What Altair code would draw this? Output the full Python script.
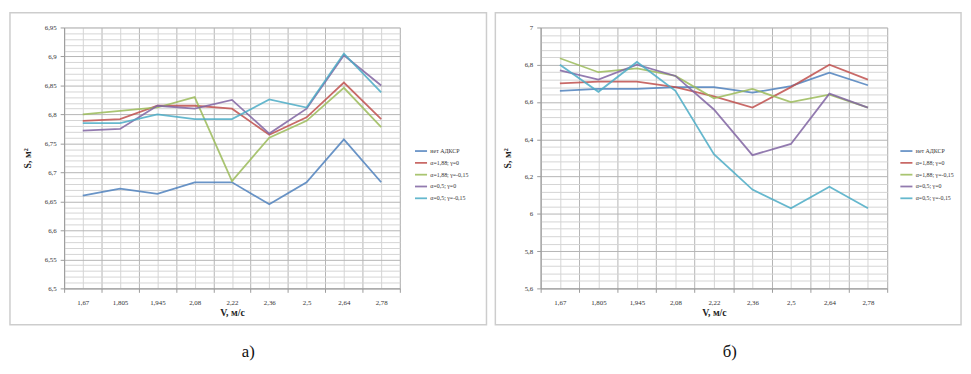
import json
import altair as alt
import pandas as pd

categories = ["1,67", "1,805", "1,945", "2,08", "2,22", "2,36", "2,5", "2,64", "2,78"]
series_names = ["нет АДКСР", "α=1,88; γ=0", "α=1,88; γ=-0,15", "α=0,5; γ=0", "α=0,5; γ=-0,15"]
colors = ["#4F81BD", "#C0504D", "#9BBB59", "#8064A2", "#4BACC6"]

# panel a)
a_s1 = [6.66, 6.672, 6.663, 6.683, 6.683, 6.645, 6.683, 6.757, 6.683]
a_s2 = [6.789, 6.792, 6.815, 6.815, 6.81, 6.765, 6.795, 6.855, 6.792]
a_s3 = [6.80, 6.806, 6.812, 6.83, 6.685, 6.76, 6.789, 6.846, 6.778]
a_s4 = [6.772, 6.775, 6.815, 6.81, 6.825, 6.767, 6.81, 6.902, 6.85]
a_s5 = [6.785, 6.785, 6.80, 6.792, 6.792, 6.826, 6.812, 6.905, 6.838]

# panel б)
b_s1 = [6.66, 6.67, 6.67, 6.68, 6.68, 6.65, 6.685, 6.757, 6.69]
b_s2 = [6.70, 6.71, 6.71, 6.68, 6.63, 6.57, 6.68, 6.80, 6.72]
b_s3 = [6.835, 6.76, 6.78, 6.74, 6.62, 6.67, 6.60, 6.64, 6.57]
b_s4 = [6.77, 6.72, 6.80, 6.74, 6.56, 6.315, 6.375, 6.645, 6.57]
b_s5 = [6.80, 6.655, 6.815, 6.66, 6.32, 6.13, 6.03, 6.145, 6.03]

a_domain = [6.5, 6.95]
a_minor_step = 0.01
a_major_mult = 20
b_domain = [5.6, 7.0]
b_minor_step = 0.04
b_major_mult = 5

x_title = "V, м/с"
y_title = "S, м²"
captions = ["а)", "б)"]

FONT = "Liberation Serif"
H = 265


def long_df(series):
    rows = []
    for name, vals in zip(series_names, series):
        for i, v in enumerate(vals):
            rows.append({"pos": i + 0.5, "cat": categories[i], "series": name, "S": v})
    return pd.DataFrame(rows)


def panel(series, domain, step, mult, caption, width, frame_l, frame_r, legend_x, cap_x):
    df = long_df(series)
    n_minor = int(round((domain[1] - domain[0]) / step))
    y_vals = [round(domain[0] + step * k, 3) for k in range(n_minor + 1)]
    major_test = f"abs(datum.value*{mult} - round(datum.value*{mult})) < 0.001"
    x_vals = [k / 2 for k in range(2 * len(categories) + 1)]
    cats_js = json.dumps(categories, ensure_ascii=False)
    bound_test = "abs(datum.value - round(datum.value)) < 0.001"

    x_enc = alt.X(
        "pos:Q",
        scale=alt.Scale(domain=[0, len(categories)], nice=False, zero=False),
        axis=alt.Axis(
            values=x_vals,
            labelExpr=f"{bound_test} ? '' : {cats_js}[floor(datum.value)]",
            title=x_title,
            titleFont=FONT, titleFontSize=10, titleFontWeight="bold", titleColor="#222",
            titlePadding=3,
            labelFont=FONT, labelFontSize=7, labelColor="#333", labelPadding=6,
            labelAngle=0,
            grid=True,
            gridColor={"condition": {"test": bound_test, "value": "#b4b4b4"}, "value": "#d4d4d4"},
            gridWidth=1,
            tickColor={"condition": {"test": bound_test, "value": "#9a9a9a"}, "value": "transparent"},
            tickSize=4,
            domainColor="#9a9a9a",
        ),
    )
    y_enc = alt.Y(
        "S:Q",
        scale=alt.Scale(domain=domain, nice=False, zero=False),
        axis=alt.Axis(
            values=y_vals,
            labelExpr=f"{major_test} ? replace(format(datum.value, '.2~f'), '.', ',') : ''",
            title=y_title,
            titleFont=FONT, titleFontSize=10, titleFontWeight="bold", titleColor="#222",
            titlePadding=12,
            labelFont=FONT, labelFontSize=7, labelColor="#333", labelPadding=4,
            grid=True,
            gridColor={"condition": {"test": major_test, "value": "#b4b4b4"}, "value": "#d4d4d4"},
            gridWidth=1,
            tickColor={"condition": {"test": major_test, "value": "#9a9a9a"}, "value": "transparent"},
            tickSize=4,
            domainColor="#9a9a9a",
        ),
    )
    lines = alt.Chart(df).mark_line(strokeWidth=1.8, opacity=0.85).encode(
        x=x_enc,
        y=y_enc,
        color=alt.Color(
            "series:N",
            scale=alt.Scale(domain=series_names, range=colors),
            sort=series_names,
            legend=alt.Legend(
                title=None, orient="none", legendX=legend_x, legendY=118,
                symbolType="stroke", symbolSize=150, symbolStrokeWidth=1.8,
                labelFont=FONT, labelFontSize=6, labelColor="#333",
                rowPadding=0, labelOffset=2, labelLimit=200,
            ),
        ),
        order=alt.Order("pos:Q"),
    )
    one = pd.DataFrame({"k": [0]})
    frame = alt.Chart(one).mark_rect(fill="#ffffff", fillOpacity=0, stroke="#cdcdcd", strokeWidth=1.5).encode(
        x=alt.value(frame_l), x2=alt.value(frame_r), y=alt.value(-15), y2=alt.value(302)
    )
    cap = alt.Chart(one).mark_text(font=FONT, fontSize=17, color="#111", baseline="middle", align="center").encode(
        x=alt.value(cap_x), y=alt.value(330), text=alt.value(caption)
    )
    return alt.layer(frame, lines, cap).properties(width=width, height=H)


left = panel([a_s1, a_s2, a_s3, a_s4, a_s5], a_domain, a_minor_step, a_major_mult,
             captions[0], 341, -55, 429, 355, 187)
right = panel([b_s1, b_s2, b_s3, b_s4, b_s5], b_domain, b_minor_step, b_major_mult,
              captions[1], 352, -46, 427, 364, 192)

chart = alt.hconcat(left, right, spacing=5).resolve_legend(color="independent").properties(
    padding={"left": 0, "top": 0, "right": 0, "bottom": 0}
).configure_view(strokeWidth=0).configure(background="#ffffff")

chart.save("out.html", embed_options={"renderer": "svg", "actions": False})
